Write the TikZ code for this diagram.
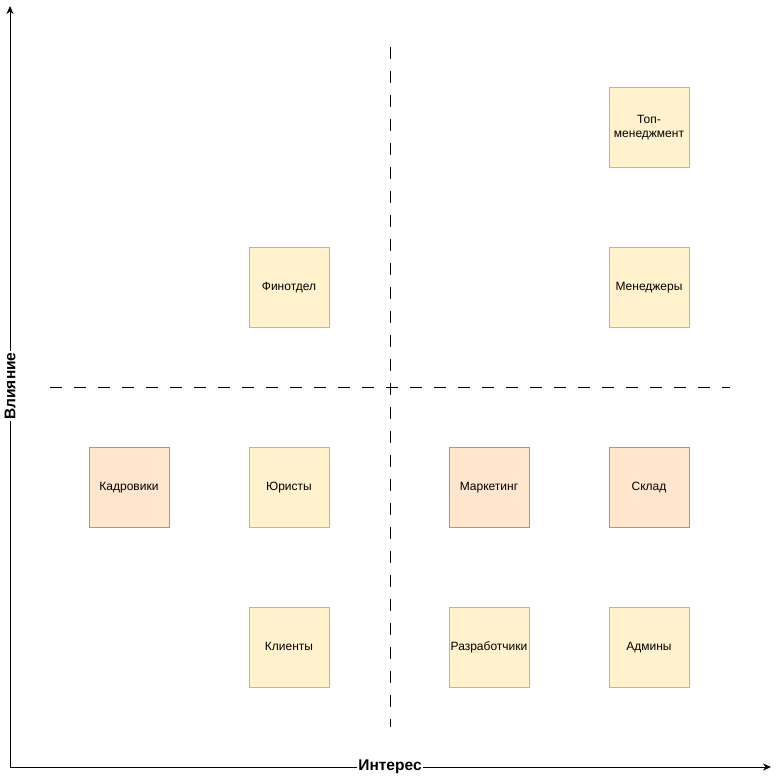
\documentclass[tikz,border=0pt]{standalone}
\usepackage{fontspec}
\setmainfont{Liberation Sans}
\usetikzlibrary{arrows.meta}
\definecolor{yfill}{HTML}{FFF2CC}
\definecolor{ydraw}{HTML}{D6B656}
\definecolor{ofill}{HTML}{FFE6CC}
\definecolor{odraw}{HTML}{D79B00}
\newcommand{\boxstrut}{\rule[-2.8pt]{0pt}{12.4pt}}
\tikzset{
  stake/.style={draw=ydraw, fill=yfill, minimum width=80pt, minimum height=80pt, inner sep=1pt, align=center, font=\fontsize{12}{14}\selectfont, text width=78pt, execute at begin node=\boxstrut, execute at end node=\boxstrut},
  stakeo/.style={stake, draw=odraw, fill=ofill},
  axis/.style={line width=1pt, -{Stealth[length=8pt,width=7pt]}},
  divider/.style={line width=1pt, dash pattern=on 12pt off 12pt},
  axislabel/.style={font=\bfseries\fontsize{15.5}{18}\selectfont, fill=white, inner sep=1pt}
}
\begin{document}
\begin{tikzpicture}[x=1pt,y=-1pt]
\useasboundingbox[fill=white] (0,0) rectangle (778,777);
% axes
\coordinate (o) at (10,767);
\coordinate (ytop) at (10,6);
\coordinate (xend) at (771,767);
\draw[axis] (o) -- (ytop);
\draw[axis] (o) -- (xend);
\node[axislabel] (xl) at (390,767) {Интерес};
\node[axislabel, rotate=90] (yl) at (10,386) {Влияние};
% dividers
\coordinate (vt) at (390,47);
\coordinate (vb) at (390,727);
\coordinate (hl) at (50,387);
\coordinate (hr) at (730,387);
\draw[divider] (vt) -- (vb);
\draw[divider] (hl) -- (hr);
% boxes
\node[stake] (top) at (649,127) {Топ-\\менеджмент};
\node[stake] (fin) at (289,287) {Финотдел};
\node[stake] (man) at (649,287) {Менеджеры};
\node[stakeo] (kad) at (129,487) {Кадровики};
\node[stake] (yur) at (289,487) {Юристы};
\node[stakeo] (mar) at (489,487) {Маркетинг};
\node[stakeo] (skl) at (649,487) {Склад};
\node[stake] (kli) at (289,647) {Клиенты};
\node[stake] (raz) at (489,647) {Разработчики};
\node[stake] (adm) at (649,647) {Админы};
\end{tikzpicture}
\end{document}
